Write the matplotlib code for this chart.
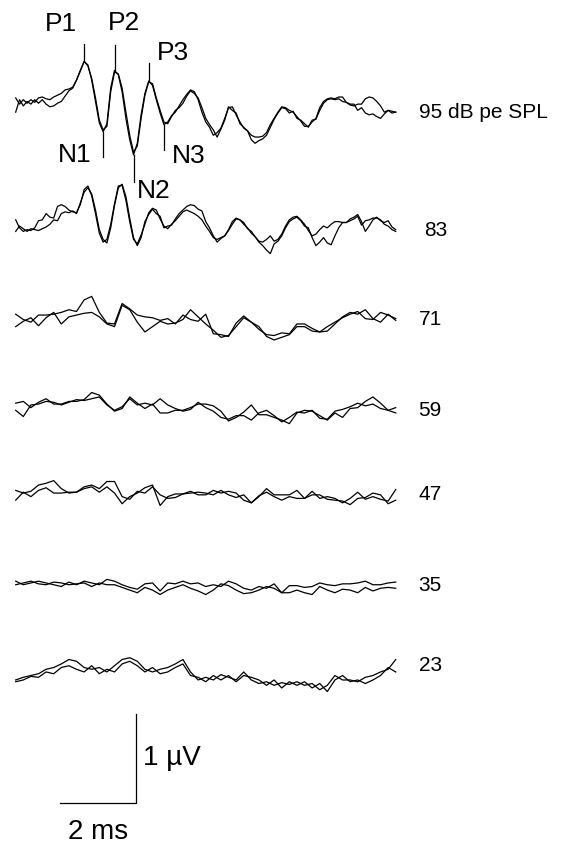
import numpy as np
import matplotlib
matplotlib.use('Agg')
import matplotlib.pyplot as plt

plt.rcParams['font.family'] = ['Liberation Sans', 'DejaVu Sans']

# time axes (ms)
t_fine = np.round(np.arange(101) * 0.1, 2)
t_coarse = np.round(np.arange(51) * 0.2, 2)

# amplitudes (uV), two repeated recordings per level
amp95_a = [.08, .01, .06, .02, .06, .03, .08, .09, .07, .06,
           .09, .11, .13, .17, .18, .20, .28, .39, .49, .45,
           .28, .04, -.20, -.30, -.21, .19, .39, .34, .15, -.15,
           -.39, -.56, -.43, -.11, .13, .27, .22, .06, -.09, -.22,
           -.19, -.12, -.08, -.01, .06, .12, .17, .15, .06, -.08,
           -.19, -.25, -.34, -.31, -.26, -.15, -.03, -.02, -.11, -.19,
           -.26, -.29, -.34, -.36, -.36, -.35, -.31, -.22, -.15, -.08,
           -.02, -.03, -.06, -.08, -.13, -.18, -.24, -.24, -.19, -.15,
           -.03, .04, .07, .08, .07, .09, .09, .03, .01, .01,
           -.06, -.03, -.09, -.11, -.10, -.13, -.15, -.10, -.06, -.09,
           -.08]
amp95_b = [-.08, .06, -.01, .04, .01, .06, .02, .06, .01, -.02,
           -.01, .02, .04, .10, .16, .19, .28, .38, .49, .44,
           .30, .08, -.17, -.28, -.24, .15, .37, .35, .19, -.08,
           -.34, -.53, -.46, -.15, .11, .26, .24, .08, -.06, -.19,
           -.21, -.13, -.06, -.03, .02, .10, .16, .13, .08, -.03,
           -.15, -.22, -.28, -.36, -.27, -.17, -.02, -.06, -.09, -.21,
           -.25, -.29, -.39, -.43, -.40, -.38, -.34, -.25, -.16, -.09,
           -.03, -.04, -.09, -.07, -.15, -.17, -.21, -.25, -.17, -.16,
           -.06, .02, .06, .07, .06, .07, .04, .03, 0, -.01,
           .01, .01, .07, .09, .08, .04, -.01, -.08, -.06, -.07,
           -.08]
amp83_a = [.09, 0, -.04, -.02, -.03, 0, .08, .09, .16, .12,
           .11, .24, .26, .24, .20, .18, .17, .26, .43, .47,
           .36, .16, -.06, -.16, -.13, .04, .27, .47, .48, .31,
           .07, -.13, -.18, -.08, .04, .17, .22, .20, .10, .02,
           -.01, .04, .08, .13, .18, .20, .18, .16, .13, .09,
           .02, -.04, -.11, -.13, -.11, -.09, -.02, .07, .11, .09,
           .04, 0, -.06, -.10, -.15, -.16, -.13, -.09, -.15, -.13,
           -.07, .02, .09, .12, .13, .09, .04, -.03, -.09, -.07,
           -.02, .02, 0, .04, .07, .07, .06, .06, .10, .12,
           .15, .07, -.04, .02, .09, .12, .08, .06, .08, .01,
           -.02]
amp83_b = [-.04, .02, -.01, -.04, -.01, -.02, -.03, -.01, .01, .04,
           .09, .08, .16, .18, .17, .19, .16, .28, .40, .45,
           .38, .20, -.02, -.13, -.17, 0, .25, .45, .49, .35,
           .11, -.11, -.20, -.11, .07, .15, .21, .16, .13, 0,
           .02, .03, .10, .16, .20, .24, .26, .25, .21, .19,
           .07, 0, -.09, -.16, -.12, -.09, -.03, .04, .10, .09,
           .06, -.01, -.04, -.10, -.16, -.20, -.25, -.29, -.18, -.15,
           -.09, 0, .07, .10, .12, .08, .02, 0, -.11, -.20,
           -.16, -.11, -.17, -.19, -.09, 0, .06, .06, .08, .10,
           .13, .03, .08, .09, .11, .11, .09, .04, .02, -.02,
           -.04]
amp71_a = [.07, .01, -.02, .06, .06, .07, .09, .12, .10, .23,
           .27, .09, -.03, -.04, .19, .13, .06, .04, .03, 0,
           .02, -.04, .06, .01, -.01, .07, -.15, -.16, -.18, -.03,
           .05, -.02, -.10, -.16, -.17, -.14, -.15, -.04, -.04, -.09,
           -.13, -.07, -.02, .03, .07, .10, .02, .01, .09, .06,
           .02]
amp71_b = [-.07, -.01, .03, -.06, .03, .09, -.04, .04, .06, .08,
           .09, .04, -.04, -.07, .17, .12, -.02, -.13, -.07, -.01,
           -.04, -.03, .01, .12, .04, -.04, -.11, -.19, -.17, -.07,
           .03, -.02, -.07, -.18, -.22, -.19, -.16, -.07, -.07, -.12,
           -.13, -.12, -.04, .04, .09, .07, .12, .02, -.02, .07,
           0]
amp59_a = [.02, .04, -.03, .03, .07, .01, .01, .04, .04, .06,
           .14, .11, .01, -.07, -.04, .09, .02, -.04, .01, -.09,
           -.09, -.06, -.06, -.03, .01, .01, -.01, -.07, -.18, -.14,
           -.08, 0, -.11, -.11, -.14, -.17, -.21, -.09, -.06, -.07,
           -.12, -.17, -.09, -.14, -.04, -.03, .04, .09, .02, -.06,
           -.09]
amp59_b = [-.06, -.13, 0, .01, .04, .03, 0, .03, .06, .05,
           .07, .09, 0, -.06, -.02, .07, 0, .02, 0, .07,
           0, -.04, -.07, -.05, .03, -.03, -.07, -.14, -.16, -.12,
           -.12, -.17, -.09, -.06, -.12, -.19, -.14, -.08, -.09, -.06,
           -.15, -.16, -.07, -.05, -.02, .02, -.01, .01, -.04, -.06,
           -.03]
amp47_a = [-.09, 0, -.05, .02, .05, -.01, -.01, 0, 0, .04,
           .06, 0, .06, -.01, -.13, -.05, -.01, .05, .08, -.15,
           -.05, -.02, -.02, .01, -.03, -.03, .02, -.01, .01, -.01,
           -.09, -.12, -.05, .04, -.03, -.03, -.03, .02, -.07, .01,
           -.07, -.05, -.07, -.12, -.07, 0, -.08, -.05, -.08, -.10,
           .03]
amp47_b = [.02, -.01, .01, .08, .10, .13, .04, -.01, 0, .06,
           .08, .04, .12, .12, -.05, -.08, .01, -.01, .06, -.03,
           -.07, -.06, -.02, -.01, 0, -.01, -.03, .02, -.03, -.06,
           -.03, -.12, -.04, 0, -.05, -.09, -.05, -.07, -.07, -.03,
           -.03, -.08, -.09, -.10, -.14, -.07, -.06, -.01, -.03, -.13,
           -.09]
amp35_a = [0, .02, .04, .01, 0, .03, .02, 0, .01, .02,
           -.02, .02, 0, 0, -.03, -.06, -.09, -.03, -.06, -.11,
           -.06, -.03, 0, -.04, -.07, -.11, -.06, .01, -.01, -.06,
           -.10, -.09, -.06, -.02, -.04, -.09, -.09, -.06, -.09, -.11,
           -.02, -.06, -.09, -.05, -.06, -.09, -.03, -.07, -.04, -.03,
           -.04]
amp35_b = [.04, 0, .02, .04, .02, 0, -.02, .03, 0, .04,
           .02, 0, .06, .04, 0, -.03, -.05, .01, .02, -.07,
           .02, .01, .04, .01, .02, -.02, 0, -.02, .04, .01,
           -.04, -.06, -.02, -.04, .01, -.09, -.01, -.01, -.03, -.02,
           .02, 0, -.01, .01, .01, .02, .04, 0, 0, .02,
           .03]
amp23_a = [-.06, -.03, -.01, .01, .06, .08, .12, .17, .15, .08,
           .06, .08, .03, .10, .17, .19, .15, .06, .03, .06,
           .08, .12, .17, .03, -.06, -.03, -.06, 0, -.03, -.06,
           .03, -.06, -.10, -.08, -.12, -.09, -.11, -.08, -.12, -.10,
           -.17, -.12, -.01, -.06, -.06, -.08, -.03, -.01, .03, .06,
           .17]
amp23_b = [-.08, -.06, -.02, -.03, .03, .01, .08, .10, .06, .03,
           .10, .01, .06, .03, .12, .15, .10, .03, .08, .01,
           .03, .08, .12, -.01, -.03, -.08, -.01, -.06, -.01, -.08,
           -.01, -.03, -.06, -.12, -.06, -.15, -.08, -.12, -.08, -.15,
           -.10, -.19, -.06, -.01, -.08, -.06, -.10, -.06, -.01, .08,
           .03]

levels = ['95 dB pe SPL', '83', '71', '59', '47', '35', '23']
peak_names = ['P1', 'P2', 'P3']
peak_times = [1.8, 2.6, 3.5]
trough_names = ['N1', 'N2', 'N3']
trough_times = [2.3, 3.1, 3.9]

# layout
offsets = [-1.18, -2.56, -3.60, -4.55, -5.53, -6.57, -7.58]
label_x = [10.6, 10.75, 10.6, 10.6, 10.6, 10.6, 10.6]
traces = [(t_fine, amp95_a, amp95_b), (t_fine, amp83_a, amp83_b),
          (t_coarse, amp71_a, amp71_b), (t_coarse, amp59_a, amp59_b),
          (t_coarse, amp47_a, amp47_b), (t_coarse, amp35_a, amp35_b),
          (t_coarse, amp23_a, amp23_b)]

fig = plt.figure(figsize=(5.85, 8.48), dpi=100)
ax = fig.add_axes([0, 0, 1, 1])
ax.set_xlim(-0.413, 14.98)
ax.set_ylim(-9.528, 0)
ax.axis('off')

for (t, a, b), off, lab, lx in zip(traces, offsets, levels, label_x):
    ax.plot(t, np.array(a) + off, color='black', lw=0.9)
    ax.plot(t, np.array(b) + off, color='black', lw=0.9)
    ax.text(lx, off + (a[-1] + b[-1]) / 2, lab, fontsize=15,
            ha='left', va='center')

# wave markers on the 95 dB trace
off95 = offsets[0]
label_shift_p = [(-0.6, 0.22), (0.24, 0.24), (0.63, 0.11)]
tick_p = [0.2, 0.29, 0.2]
for name, tp, (dx, dy), ln in zip(peak_names, peak_times, label_shift_p, tick_p):
    y0 = np.interp(tp, t_fine, amp95_a) + off95
    ax.plot([tp, tp], [y0, y0 + ln], color='black', lw=0.9)
    ax.text(tp + dx, y0 + ln + dy, name, fontsize=19, ha='center', va='center')

label_shift_n = [(-0.76, 0.02), (0.53, -0.11), (0.66, -0.07)]
tick_n = [0.28, 0.3, 0.28]
for name, tn, (dx, dy), ln in zip(trough_names, trough_times, label_shift_n, tick_n):
    y0 = np.interp(tn, t_fine, amp95_a) + off95
    ax.plot([tn, tn], [y0, y0 - ln], color='black', lw=0.9)
    ax.text(tn + dx, y0 - ln + dy, name, fontsize=19, ha='center', va='center')

# scale bar: 2 ms by 1 uV
bx, by = 3.17, -9.02
ax.plot([bx - 2, bx, bx], [by, by, by + 1], color='black', lw=0.9)
ax.text(bx + 0.17, by + 0.5, '1 µV', fontsize=20, ha='left', va='center')
ax.text(bx - 1.0, by - 0.33, '2 ms', fontsize=20, ha='center', va='center')

fig.savefig('out.png', dpi=100)
